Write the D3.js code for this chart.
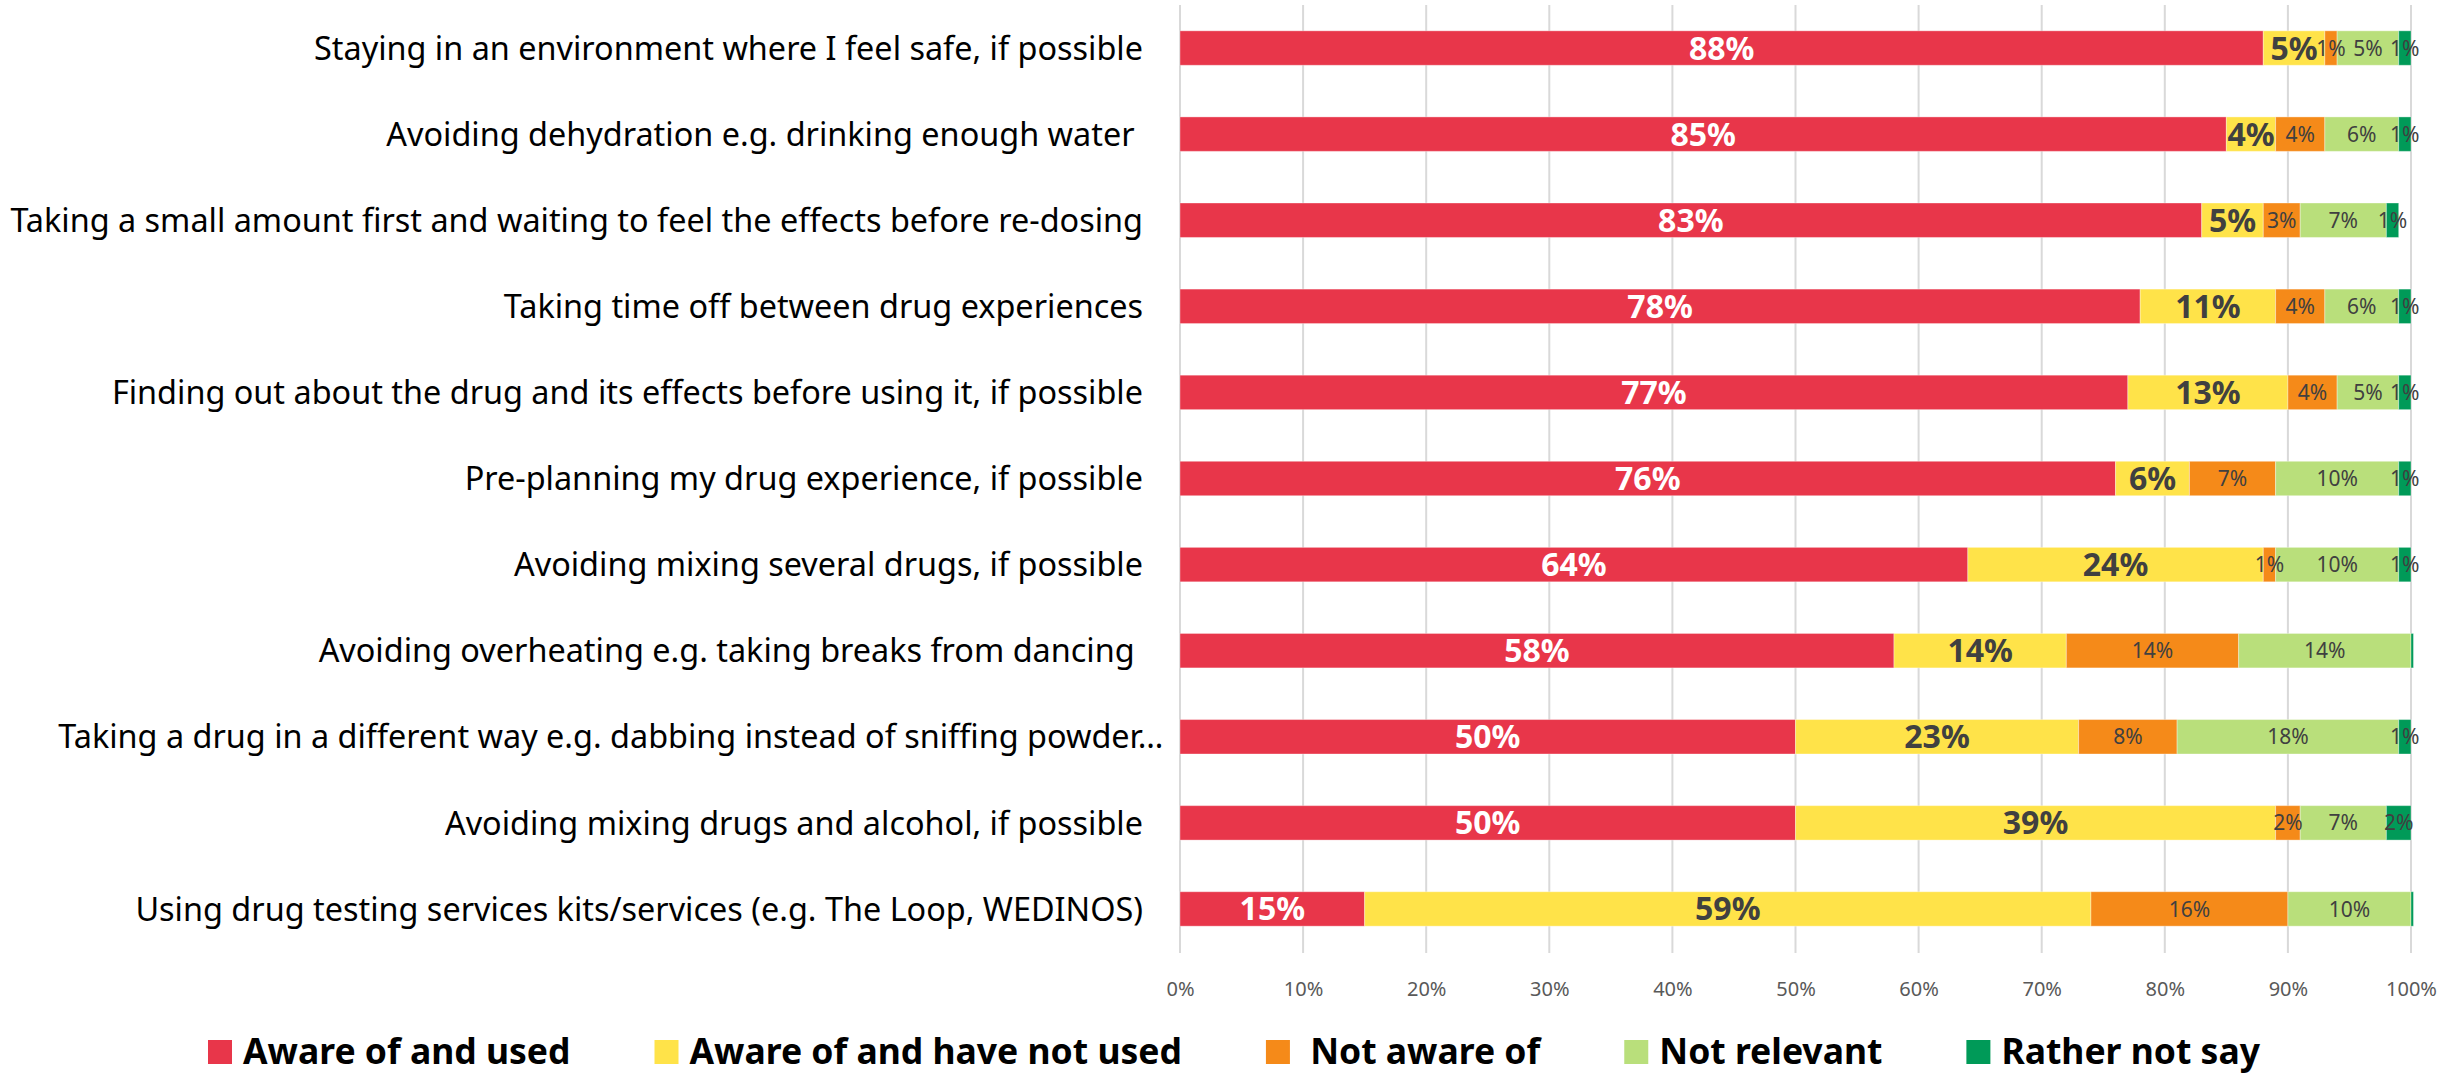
<!DOCTYPE html>
<html>
<head>
<meta charset="utf-8">
<script src="https://cdn.jsdelivr.net/npm/d3@7"></script>
<style>
  html, body { margin: 0; padding: 0; background: #fff; }
  svg { display: block; }
  text { font-family: "Noto Sans", "Open Sans", sans-serif; }
</style>
</head>
<body>
<svg id="chart" width="2458" height="1075"></svg>
<script>
// Harm-reduction practices: awareness and use (% of respondents)
const categories = [
  "Staying in an environment where I feel safe, if possible",
  "Avoiding dehydration e.g. drinking enough water ",
  "Taking a small amount first and waiting to feel the effects before re-dosing",
  "Taking time off between drug experiences",
  "Finding out about the drug and its effects before using it, if possible",
  "Pre-planning my drug experience, if possible",
  "Avoiding mixing several drugs, if possible",
  "Avoiding overheating e.g. taking breaks from dancing ",
  "Taking a drug in a different way e.g. dabbing instead of sniffing powder\u2026",
  "Avoiding mixing drugs and alcohol, if possible",
  "Using drug testing services kits/services (e.g. The Loop, WEDINOS)"
];

const seriesNames = ["Aware of and used", "Aware of and have not used", " Not aware of", "Not relevant", "Rather not say"];
const seriesColors = ["#E8364A", "#FFE349", "#F58A19", "#B9DF7B", "#009A58"];

const awareUsed     = [88, 85, 83, 78, 77, 76, 64, 58, 50, 50, 15];
const awareNotUsed  = [5, 4, 5, 11, 13, 6, 24, 14, 23, 39, 59];
const notAware      = [1, 4, 3, 4, 4, 7, 1, 14, 8, 2, 16];
const notRelevant   = [5, 6, 7, 6, 5, 10, 10, 14, 18, 7, 10];
const ratherNotSay  = [1, 1, 1, 1, 1, 1, 1, 0.2, 1, 2, 0.2];

const tickValues = [0, 10, 20, 30, 40, 50, 60, 70, 80, 90, 100];

const seriesValues = [awareUsed, awareNotUsed, notAware, notRelevant, ratherNotSay];
const keys = seriesNames.map((_, i) => "s" + i);
const rows = categories.map((c, r) => {
  const o = { category: c };
  keys.forEach((k, i) => { o[k] = seriesValues[i][r]; });
  return o;
});

const svg = d3.select("#chart");
const plot = { left: 1180, right: 2411, top: 5, bottom: 952 };

const x = d3.scaleLinear().domain([0, 100]).range([plot.left, plot.right]);
const y = d3.scaleBand().domain(categories).range([plot.top, plot.bottom])
  .paddingInner(0.6).paddingOuter(0.3);

// vertical gridlines
svg.append("g")
  .selectAll("line")
  .data(tickValues)
  .join("line")
  .attr("x1", d => x(d)).attr("x2", d => x(d))
  .attr("y1", plot.top).attr("y2", plot.bottom + 1)
  .attr("stroke", "#D9D9D9")
  .attr("stroke-width", 2);

// x axis tick labels
const xAxis = d3.axisBottom(x).tickValues(tickValues).tickFormat(d => d + "%").tickSize(0).tickPadding(0);
const axisG = svg.append("g").attr("transform", `translate(0, 982)`).call(xAxis);
axisG.select(".domain").remove();
axisG.selectAll("text")
  .attr("font-family", "'Noto Sans', 'Open Sans', sans-serif")
  .attr("font-size", 20)
  .attr("fill", "#595959");

// stacked bars
const stacked = d3.stack().keys(keys)(rows);

const layers = svg.append("g")
  .selectAll("g")
  .data(stacked)
  .join("g")
  .attr("fill", (d, i) => seriesColors[i]);

layers.selectAll("rect")
  .data(d => d)
  .join("rect")
  .attr("x", d => x(d[0]))
  .attr("y", d => y(d.data.category))
  .attr("width", d => x(d[1]) - x(d[0]))
  .attr("height", y.bandwidth())
  .attr("stroke", "#ffffff")
  .attr("stroke-opacity", 0.35)
  .attr("stroke-width", 1);

// segment value labels
const labelStyle = [
  { fill: "#ffffff", size: 32, weight: 700 },
  { fill: "#404040", size: 32, weight: 700 },
  { fill: "#404040", size: 21, weight: 400 },
  { fill: "#404040", size: 21, weight: 400 },
  { fill: "#404040", size: 21, weight: 400 }
];

layers.each(function(layer, i) {
  const st = labelStyle[i];
  d3.select(this.parentNode).append("g")
    .selectAll("text")
    .data(layer.filter(d => (d[1] - d[0]) >= 0.5))
    .join("text")
    .attr("x", d => (x(d[0]) + x(d[1])) / 2)
    .attr("y", d => y(d.data.category) + y.bandwidth() / 2)
    .attr("dy", "0.36em")
    .attr("text-anchor", "middle")
    .attr("font-size", st.size)
    .attr("font-weight", st.weight)
    .attr("fill", st.fill)
    .text(d => d3.format(".0f")(d[1] - d[0]) + "%");
});

// category labels
const catG = svg.append("g");
catG.selectAll("text")
  .data(categories)
  .join("text")
  .attr("x", 1143)
  .attr("y", d => y(d) + y.bandwidth() / 2)
  .attr("dy", "0.36em")
  .attr("text-anchor", "end")
  .attr("font-size", 32.4)
  .attr("fill", "#000")
  .style("white-space", "pre")
  .text(d => d)
  .each(function(d) {
    // a truncated label lets its ellipsis overflow past the anchor
    if (d.endsWith("\u2026")) {
      const full = this.getComputedTextLength();
      const t = d3.select(this).text(d.slice(0, -1));
      const w = this.getComputedTextLength();
      t.text(d).attr("x", 1143 + (full - w));
    }
  });

// legend
const legend = svg.append("g");
let lx = 208;
seriesNames.forEach((name, i) => {
  const g = legend.append("g");
  g.append("rect")
    .attr("x", lx).attr("y", 1040)
    .attr("width", 24).attr("height", 24)
    .attr("fill", seriesColors[i]);
  const t = g.append("text")
    .attr("x", lx + 35).attr("y", 1064)
    .attr("font-size", 35.5)
    .attr("font-weight", 700)
    .attr("fill", "#000")
    .style("white-space", "pre")
    .text(name);
  lx += 35 + t.node().getComputedTextLength() + 84;
});
</script>
</body>
</html>
